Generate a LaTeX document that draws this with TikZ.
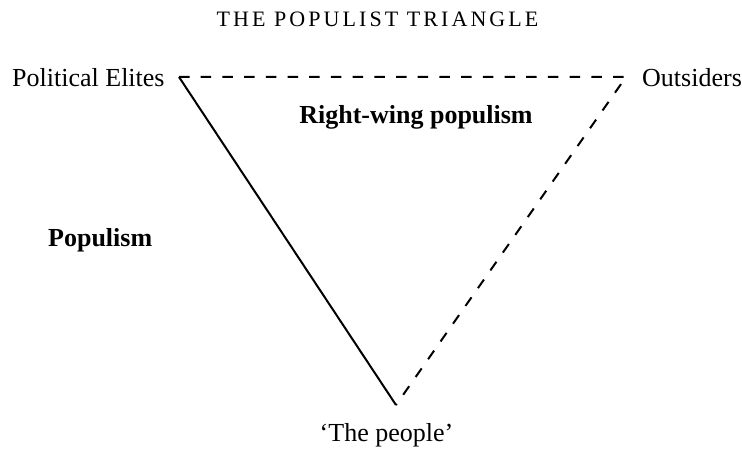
\documentclass[tikz,border=0pt]{standalone}
\usepackage{fontspec}
\setmainfont{Liberation Serif}
\newfontfamily\titlefont[LetterSpace=14]{Liberation Serif}
\begin{document}
\begin{tikzpicture}[x=1pt,y=-1pt,
  lbl/.style={inner sep=0pt,font=\fontsize{26}{30}\selectfont},
  blbl/.style={inner sep=0pt,font=\fontsize{26}{30}\selectfont\bfseries},
  edge/.style={line width=2pt,line join=miter},
  dashedge/.style={line width=2pt,dash pattern=on 10.5pt off 11.2pt,line join=miter}]
\useasboundingbox (0,0) rectangle (742,454);
\node[inner sep=0pt,anchor=base,font=\titlefont\fontsize{22}{25}\selectfont] (title) at (377.5,26.7) {THE POPULIST TRIANGLE};
\coordinate (TL) at (179,77);
\coordinate (TR) at (626,77);
\coordinate (B) at (396,405);
\node[lbl,anchor=base west] (elites) at (12,86.7) {Political Elites};
\node[lbl,anchor=base west] (outsiders) at (642,86.7) {Outsiders};
\node[lbl,anchor=base] (people) at (386.5,441.7) {‘The people’};
\node[blbl,anchor=base] (rwp) at (416,123.3) {Right-wing populism};
\node[blbl,anchor=base west] (pop) at (48,246.7) {Populism};
\draw[edge] (TL) -- (B);
\draw[dashedge] (TL) -- (TR) -- (B);
\end{tikzpicture}
\end{document}
